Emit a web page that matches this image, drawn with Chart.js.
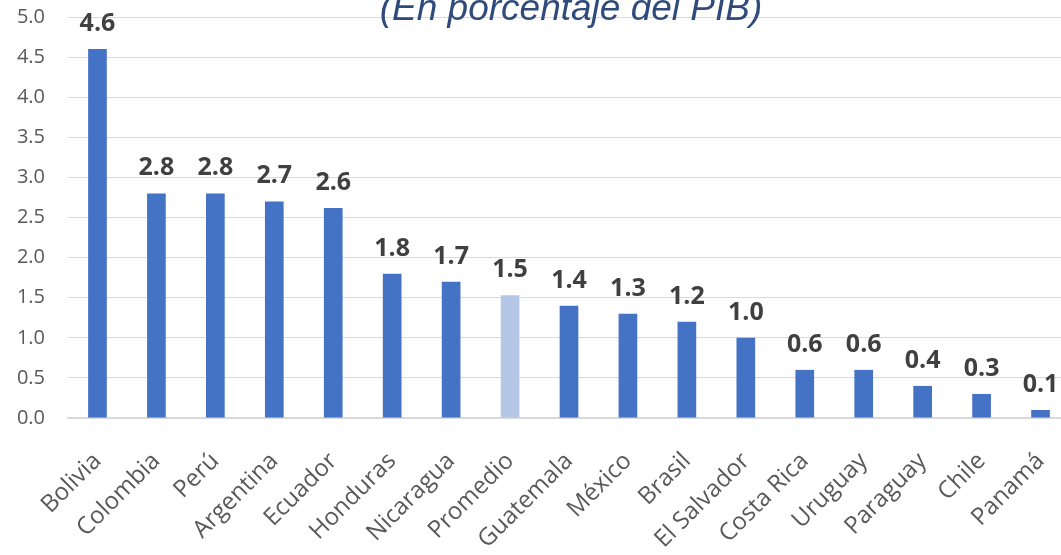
<!DOCTYPE html>
<html>
<head>
<meta charset="utf-8">
<script src="https://cdn.jsdelivr.net/npm/chart.js@4.4.0/dist/chart.umd.min.js"></script>
<style>
  html, body { margin: 0; padding: 0; background: #ffffff; overflow: hidden; }
  #wrap { position: relative; width: 1070px; height: 555px; }
</style>
</head>
<body>
<div id="wrap"><canvas id="c" width="1070" height="555"></canvas></div>
<script>
const categories = ["Bolivia", "Colombia", "Perú", "Argentina", "Ecuador", "Honduras", "Nicaragua", "Promedio", "Guatemala", "México", "Brasil", "El Salvador", "Costa Rica", "Uruguay", "Paraguay", "Chile", "Panamá"];
const values = [4.6, 2.8, 2.8, 2.7, 2.62, 1.8, 1.7, 1.53, 1.4, 1.3, 1.2, 1.0, 0.6, 0.6, 0.4, 0.3, 0.1];
const valueLabels = ["4.6", "2.8", "2.8", "2.7", "2.6", "1.8", "1.7", "1.5", "1.4", "1.3", "1.2", "1.0", "0.6", "0.6", "0.4", "0.3", "0.1"];
const highlightCategory = "Promedio";
const titleText = "(En porcentaje del PIB)";
const yMin = 0, yMax = 5, yStep = 0.5;

const barColors = categories.map(c => c === highlightCategory ? "#B4C7E7" : "#4472C4");

const labelPlugin = {
  id: "labels",
  afterDatasetsDraw(chart) {
    const ctx = chart.ctx;
    const meta = chart.getDatasetMeta(0);
    ctx.save();
    ctx.fillStyle = "#404040";
    ctx.font = "bold 25px 'Open Sans'";
    ctx.textAlign = "center";
    ctx.textBaseline = "alphabetic";
    meta.data.forEach((bar, i) => {
      ctx.fillText(valueLabels[i], bar.x, bar.y - 18);
    });
    ctx.restore();
  },
  afterDraw(chart) {
    const ctx = chart.ctx;
    ctx.save();
    ctx.fillStyle = "#2F4B7C";
    ctx.font = "italic 37px 'Liberation Sans'";
    ctx.textAlign = "center";
    ctx.textBaseline = "alphabetic";
    ctx.fillText(titleText, 571, 19.5);
    ctx.restore();
  }
};

new Chart(document.getElementById("c"), {
  type: "bar",
  data: {
    labels: categories,
    datasets: [{
      data: values,
      backgroundColor: barColors,
      borderWidth: 0,
      categoryPercentage: 1,
      barPercentage: 0.317
    }]
  },
  options: {
    responsive: false,
    animation: false,
    devicePixelRatio: 1,
    layout: { padding: { top: 17, left: 0, right: 0, bottom: 0 } },
    plugins: {
      legend: { display: false },
      tooltip: { enabled: false },
      title: { display: false }
    },
    scales: {
      x: {
        grid: { display: false, drawTicks: false },
        border: { display: true, color: "#D9D9D9", width: 2 },
        ticks: {
          color: "#595959",
          font: { family: "'Open Sans'", size: 24 },
          maxRotation: 45,
          minRotation: 45,
          padding: 29,
          autoSkip: false
        },
        afterFit(scale) {
          scale.height = 137;
          scale.paddingLeft = 0; scale.paddingRight = 0;
          scale.paddingTop = 0; scale.paddingBottom = 0;
        }
      },
      y: {
        min: yMin,
        max: yMax,
        grid: { color: "#D9D9D9", lineWidth: 1, drawTicks: false },
        border: { display: false },
        ticks: {
          stepSize: yStep,
          color: "#595959",
          font: { family: "'Open Sans'", size: 20 },
          padding: 23,
          callback: v => v.toFixed(1)
        },
        afterFit(scale) {
          scale.width = 68;
          scale.paddingLeft = 0; scale.paddingRight = 0;
          scale.paddingTop = 0; scale.paddingBottom = 0;
        }
      }
    }
  },
  plugins: [labelPlugin]
});
</script>
</body>
</html>
